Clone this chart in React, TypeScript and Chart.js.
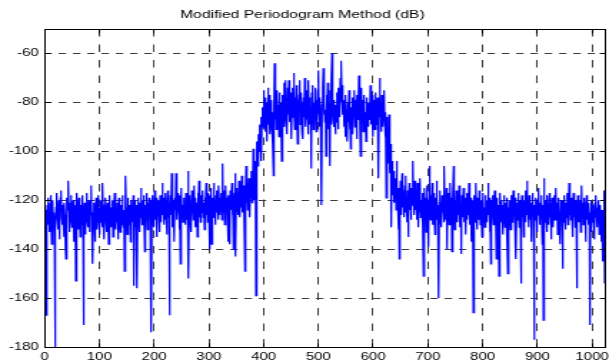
import React, { useEffect, useRef } from 'react';
import { Chart, registerables } from 'chart.js';

Chart.register(...registerables);

const TITLE = 'Modified Periodogram Method (dB)';
const X_MIN = 0;
const X_MAX = 1023;
const X_STEP = 100;
const Y_MIN = -180;
const Y_MAX = -50;
const Y_STEP = 20;

// PSD estimate (dB), bins 0..383 (noise floor below the band)
const psdLowA = [
  -131, -124, -135, -167, -128, -122, -119, -130, -126, -133, -121, -118, -127, -138, -124, -120,
  -129, -125, -134, -180, -131, -123, -117, -126, -132, -128, -120, -136, -125, -119, -116, -127,
  -130, -122, -128, -135, -121, -126, -139, -144, -127, -119, -124, -112, -121, -129, -133, -123,
  -118, -126, -131, -124, -120, -137, -125, -122, -129, -153, -127, -117, -123, -132, -126, -119,
  -128, -135, -122, -125, -130, -118, -127, -171, -129, -121, -126, -134, -123, -117, -128, -131,
  -124, -120, -133, -127, -122, -114, -125, -130, -146, -128, -121, -126, -137, -124, -119, -129,
  -132, -125, -118, -127, -134, -123, -129, -120, -126, -131, -113, -124, -128, -136, -122, -119,
  -127, -133, -125, -121, -129, -138, -124, -118, -126, -131, -123, -128, -120, -135, -127, -122,
  -117, -126, -132, -124, -129, -121, -136, -125, -119, -128, -133, -122, -126, -130, -118, -125,
  -131, -124, -149, -121, -110, -123, -128, -134, -119, -126, -122, -130, -125, -137, -120, -127,
  -123, -129, -118, -155, -124, -120, -131, -126, -122, -156, -128, -119, -125, -133, -121, -127,
  -115, -124, -130, -120, -127, -118, -125, -141, -122, -128, -117, -124, -132, -121, -126, -119,
  -123, -129, -120, -174, -125, -118, -127, -122, -131, -116, -124, -128, -119, -135, -122, -126,
  -120, -127, -133, -118, -124, -129, -121, -113, -126, -119, -130, -123, -117, -128, -125, -134,
  -121, -116, -127, -123, -167, -124, -118, -126, -109, -122, -131, -120, -125, -137, -119, -124,
  -109, -123, -128, -117, -125, -121, -132, -118, -146, -124, -115, -127, -122, -129, -119, -126,
  -121, -130, -117, -124, -128, -120, -108, -152, -123, -118, -127, -121, -133, -116, -125, -120,
  -128, -114, -123, -131, -119, -126, -121, -135, -117, -124, -112, -127, -120, -129, -118, -125,
  -122, -116, -127, -121, -132, -119, -124, -113, -126, -120, -129, -117, -123, -118, -140, -121,
  -115, -138, -122, -119, -127, -113, -124, -120, -130, -118, -125, -116, -122, -128, -114, -121,
  -126, -119, -123, -117, -128, -105, -121, -125, -116, -130, -120, -114, -124, -119, -127, -137,
  -118, -122, -138, -116, -124, -120, -113, -126, -119, -140, -121, -117, -109, -143, -120, -115,
  -122, -118, -126, -112, -121, -127, -116, -123, -110, -119, -125, -114, -120, -128, -149, -117,
  -106, -121, -115, -124, -118, -111, -122, -127, -113, -119, -108, -121, -116, -99, -114, -120,
];

// PSD estimate (dB), bins 384..639 (rising edge, signal band, falling edge)
const psdBand = [
  -110, -104, -159, -101, -96, -106, -98, -93, -100, -89, -95, -86, -104, -87, -82, -90,
  -75, -88, -81, -92, -78, -85, -96, -80, -74, -89, -83, -77, -93, -86, -79, -90,
  -84, -97, -110, -82, -64, -87, -78, -91, -83, -75, -88, -81, -94, -76, -85, -80,
  -89, -104, -83, -77, -86, -72, -90, -82, -71, -87, -79, -93, -74, -85, -71, -88,
  -81, -76, -89, -95, -80, -74, -86, -68, -83, -91, -78, -85, -73, -88, -97, -79,
  -84, -77, -71, -89, -82, -76, -92, -80, -95, -78, -86, -70, -83, -90, -75, -87,
  -81, -93, -71, -84, -78, -89, -82, -107, -76, -85, -73, -91, -80, -87, -74, -83,
  -92, -79, -86, -75, -67, -84, -90, -78, -83, -95, -122, -81, -74, -66, -85, -79,
  -88, -83, -102, -77, -86, -72, -91, -80, -84, -106, -75, -89, -70, -60, -82, -87,
  -79, -90, -85, -93, -81, -88, -76, -84, -91, -74, -77, -86, -70, -80, -63, -78,
  -73, -85, -79, -90, -82, -94, -77, -87, -83, -96, -80, -88, -75, -91, -84, -99,
  -82, -88, -78, -93, -81, -86, -75, -90, -79, -84, -95, -77, -87, -80, -69, -76,
  -85, -102, -81, -74, -88, -79, -92, -83, -77, -89, -84, -96, -78, -86, -81, -90,
  -80, -87, -83, -73, -89, -81, -77, -86, -94, -79, -85, -91, -76, -84, -89, -82,
  -78, -88, -111, -83, -70, -86, -80, -92, -77, -85, -90, -81, -75, -87, -94, -84,
  -119, -86, -93, -98, -105, -85, -101, -109, -97, -131, -112, -104, -118, -108, -121, -113,
];

// PSD estimate (dB), bins 640..1023 (noise floor above the band)
const psdLowB = [
  -120, -111, -124, -104, -117, -122, -132, -115, -144, -119, -112, -126, -118, -109, -123, -116,
  -121, -127, -114, -110, -125, -119, -129, -116, -135, -120, -113, -124, -118, -128, -115, -122,
  -117, -104, -121, -126, -112, -119, -124, -116, -128, -113, -122, -131, -118, -125, -111, -127,
  -120, -124, -117, -129, -151, -122, -115, -126, -119, -133, -121, -114, -125, -139, -120, -106,
  -123, -128, -118, -125, -113, -130, -121, -117, -127, -134, -119, -124, -112, -128, -122, -126,
  -160, -121, -116, -127, -123, -131, -118, -125, -120, -129, -106, -124, -119, -128, -115, -140,
  -122, -126, -117, -130, -121, -113, -127, -119, -141, -124, -118, -106, -125, -132, -120, -127,
  -116, -123, -129, -119, -126, -114, -124, -131, -121, -142, -118, -127, -122, -115, -129, -124,
  -119, -134, -125, -117, -128, -121, -126, -113, -123, -130, -119, -125, -137, -120, -127, -166,
  -124, -118, -129, -121, -113, -126, -132, -119, -124, -128, -116, -123, -130, -120, -126, -135,
  -121, -117, -127, -123, -131, -118, -125, -120, -129, -122, -113, -126, -119, -133, -124, -146,
  -120, -127, -118, -124, -130, -121, -116, -128, -123, -144, -119, -126, -122, -131, -151, -124,
  -117, -125, -129, -120, -127, -134, -122, -118, -126, -131, -121, -125, -119, -136, -150, -123,
  -127, -120, -125, -132, -118, -124, -129, -121, -116, -126, -123, -130, -119, -144, -125, -121,
  -128, -117, -124, -131, -120, -126, -154, -122, -118, -127, -123, -135, -120, -125, -116, -129,
  -122, -112, -126, -120, -131, -118, -124, -128, -121, -137, -123, -117, -127, -125, -177, -122,
  -128, -119, -124, -133, -120, -126, -115, -123, -130, -121, -127, -118, -125, -138, -122, -169,
  -111, -124, -129, -120, -126, -133, -118, -125, -122, -130, -117, -127, -121, -136, -124, -119,
  -126, -131, -122, -118, -128, -124, -115, -127, -121, -134, -123, -119, -129, -125, -138, -120,
  -125, -120, -148, -123, -129, -118, -126, -132, -121, -127, -117, -124, -130, -122, -113, -126,
  -121, -128, -119, -125, -135, -122, -117, -127, -123, -131, -120, -126, -156, -124, -118, -129,
  -123, -127, -120, -133, -125, -114, -126, -121, -130, -119, -127, -124, -137, -122, -118, -128,
  -124, -130, -121, -127, -171, -125, -120, -133, -126, -122, -129, -124, -136, -121, -127, -118,
  -126, -131, -123, -128, -120, -134, -125, -122, -129, -137, -124, -128, -145, -125, -116, -154,
];

const psdValues = [...psdLowA, ...psdBand, ...psdLowB];

const FONT_FAMILY = '"Liberation Sans", Arial, Helvetica, sans-serif';
const CANVAS_W = 426;
const CANVAS_H = 364;
const STRETCH = 609 / CANVAS_W;

const align = (p: number) => Math.round(p - 0.5) + 0.5;

const boxPlugin = {
  id: 'matlabBox',
  afterDraw(chart: any) {
    const { ctx, chartArea } = chart;
    const l = align(chartArea.left);
    const r = align(chartArea.right);
    const t = align(chartArea.top);
    const b = align(chartArea.bottom);
    ctx.save();
    ctx.setLineDash([]);
    ctx.strokeStyle = '#000';
    ctx.lineWidth = 1;
    ctx.strokeRect(l, t, r - l, b - t);
    const tick = 4;
    ctx.beginPath();
    const xs = chart.scales.x;
    xs.ticks.forEach((tk: any) => {
      const px = align(xs.getPixelForValue(tk.value));
      ctx.moveTo(px, b);
      ctx.lineTo(px, b - tick);
      ctx.moveTo(px, t);
      ctx.lineTo(px, t + tick);
    });
    const ys = chart.scales.y;
    ys.ticks.forEach((tk: any) => {
      const py = align(ys.getPixelForValue(tk.value));
      ctx.moveTo(l, py);
      ctx.lineTo(l + tick, py);
      ctx.moveTo(r, py);
      ctx.lineTo(r - tick, py);
    });
    ctx.stroke();
    ctx.restore();
  },
};

export default function App() {
  const canvasRef = useRef<HTMLCanvasElement | null>(null);

  useEffect(() => {
    const canvas = canvasRef.current;
    if (!canvas) return;
    const points = psdValues.map((v, i) => ({ x: i, y: v }));
    const chart = new Chart(canvas, {
      type: 'line',
      data: {
        datasets: [
          {
            data: points,
            borderColor: '#0000ff',
            borderWidth: 1.2,
            pointRadius: 0,
            tension: 0,
            fill: false,
          },
        ],
      },
      options: {
        animation: false,
        responsive: false,
        devicePixelRatio: 1,
        layout: { padding: { left: 0, right: 3, top: 0, bottom: 0 } },
        plugins: {
          legend: { display: false },
          tooltip: { enabled: false },
          title: {
            display: true,
            text: TITLE,
            color: '#000',
            font: { family: FONT_FAMILY, size: 11, weight: 'normal' },
            padding: { top: 8.5, bottom: 7.3 },
          },
        },
        scales: {
          x: {
            type: 'linear',
            min: X_MIN,
            max: X_MAX,
            ticks: {
              stepSize: X_STEP,
              includeBounds: false,
              autoSkip: false,
              maxRotation: 0,
              color: '#000',
              padding: 4,
              font: { family: FONT_FAMILY, size: 10.5 },
              callback: (v: any) => String(v),
            },
            grid: { color: '#3c3c3c', lineWidth: 1, drawTicks: false },
            border: { display: false, dash: [7.5, 8] },
            afterFit: (s: any) => {
              s.height = 17;
              s.paddingLeft = 0;
              s.paddingRight = 0;
            },
          },
          y: {
            type: 'linear',
            min: Y_MIN,
            max: Y_MAX,
            ticks: {
              stepSize: Y_STEP,
              includeBounds: false,
              color: '#000',
              padding: 4,
              font: { family: FONT_FAMILY, size: 10.5 },
              callback: (v: any) => String(v),
            },
            grid: { color: '#3c3c3c', lineWidth: 1, drawTicks: false },
            border: { display: false, dash: [5.2, 4.8] },
            afterFit: (s: any) => {
              s.width = 31.2;
              s.paddingTop = 0;
              s.paddingBottom = 0;
            },
          },
        },
      },
      plugins: [boxPlugin],
    } as any);
    return () => chart.destroy();
  }, []);

  return (
    <div
      style={{
        position: 'absolute',
        left: 0,
        top: 0,
        width: 609,
        height: 361,
        overflow: 'hidden',
        background: '#fff',
      }}
    >
      <canvas
        ref={canvasRef}
        width={CANVAS_W}
        height={CANVAS_H}
        style={{
          display: 'block',
          width: `${CANVAS_W}px`,
          height: `${CANVAS_H}px`,
          transform: `scaleX(${STRETCH})`,
          transformOrigin: '0 0',
        }}
      />
    </div>
  );
}
